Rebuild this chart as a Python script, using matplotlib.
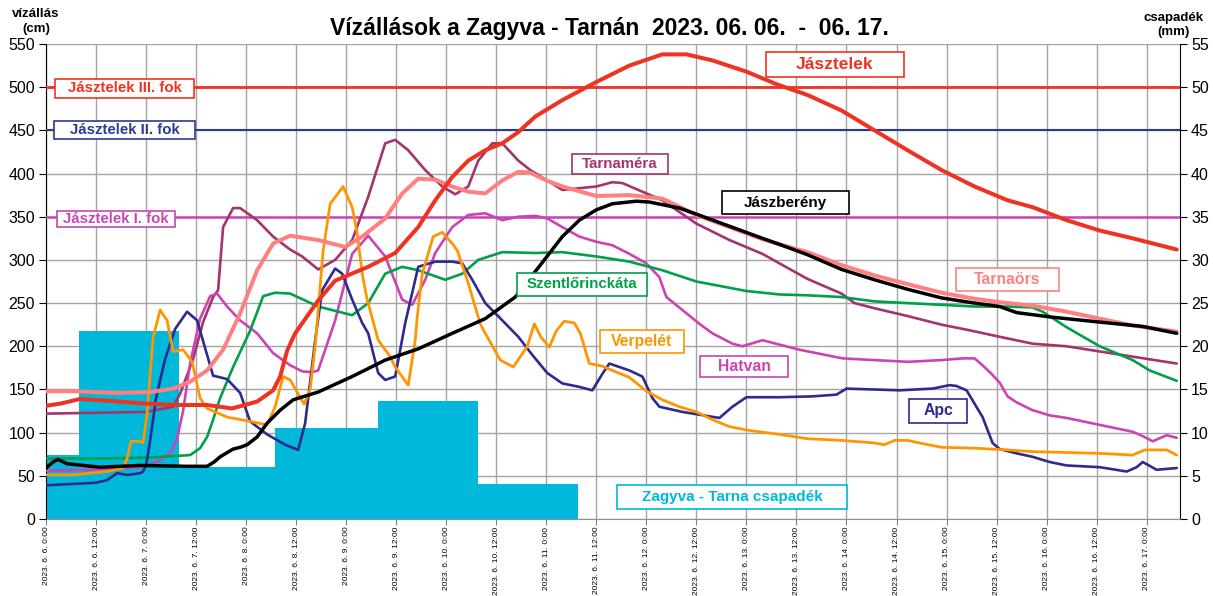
import numpy as np
import matplotlib
matplotlib.use("Agg")
import matplotlib.pyplot as plt
from matplotlib.patches import Rectangle

plt.rcParams['font.family'] = ['Liberation Sans', 'DejaVu Sans']

# ---------------- data (time in days since 2023-06-06 0:00) ----------------
precip_edges = [-0.67, 0.33, 1.33, 2.29, 3.32, 4.32, 5.32]
precip_mm = [7.4, 21.8, 6.0, 10.5, 13.7, 4.0]

jasztelek_t = [0.0, 0.16, 0.34, 0.61, 0.94, 1.27, 1.61, 1.86, 2.11, 2.27, 2.34, 2.41, 2.49, 2.72, 2.89,
               3.22, 3.49, 3.72, 3.89, 4.06, 4.22, 4.39, 4.56, 4.72, 4.89, 5.16, 5.50, 5.83, 6.16, 6.40,
               6.66, 7.00, 7.31, 7.61, 7.95, 8.28, 8.61, 8.95, 9.28, 9.61, 9.86, 10.20, 10.53, 10.86, 11.30]
jasztelek_v = [131, 134, 139, 137, 134, 132, 132, 128, 136, 149, 165, 195, 215, 253, 276,
               292, 308, 338, 369, 396, 415, 427, 435, 448, 466, 485, 506, 525, 538, 538,
               531, 518, 503, 491, 473, 450, 427, 404, 385, 369, 361, 346, 334, 325, 312]

jaszbereny_t = [0.0, 0.07, 0.12, 0.21, 0.54, 0.94, 1.41, 1.61, 1.68, 1.74, 1.87, 1.94, 2.01, 2.11, 2.21,
                2.34, 2.47, 2.72, 3.06, 3.39, 3.72, 4.06, 4.39, 4.69, 4.94, 5.16, 5.33, 5.50, 5.66, 5.90,
                6.03, 6.33, 6.50, 6.83, 7.16, 7.33, 7.61, 7.95, 8.28, 8.61, 8.95, 9.28, 9.53, 9.70, 10.03,
                10.53, 10.96, 11.30]
jaszbereny_v = [59, 66, 69, 64, 60, 62, 61, 61, 66, 72, 81, 83, 86, 95, 111,
                126, 138, 147, 165, 184, 197, 215, 232, 257, 294, 327, 346, 358, 365, 368,
                367, 360, 353, 339, 325, 318, 306, 289, 277, 266, 256, 250, 246, 239, 234,
                228, 223, 215]

tarnaors_t = [0.0, 0.27, 0.71, 1.04, 1.27, 1.44, 1.61, 1.77, 1.94, 2.11, 2.27, 2.44, 2.72, 2.99, 3.16,
              3.39, 3.56, 3.72, 3.89, 4.06, 4.22, 4.39, 4.56, 4.72, 4.84, 5.00, 5.16, 5.50, 5.83, 6.16,
              6.50, 6.83, 7.16, 7.33, 7.61, 7.95, 8.28, 8.61, 8.95, 9.28, 9.53, 9.86, 10.20, 10.53,
              10.86, 11.30]
tarnaors_v = [148, 148, 146, 147, 151, 159, 172, 196, 238, 288, 319, 328, 323, 315, 327,
              348, 377, 394, 393, 385, 379, 377, 392, 402, 401, 392, 385, 374, 375, 371,
              352, 338, 324, 318, 309, 294, 282, 272, 262, 255, 251, 247, 240, 232,
              224, 217]

tarnamera_t = [0.0, 0.5, 1.0, 1.27, 1.34, 1.47, 1.57, 1.67, 1.72, 1.77, 1.87, 1.94, 2.11, 2.27, 2.44,
               2.56, 2.72, 2.89, 3.06, 3.22, 3.39, 3.49, 3.62, 3.79, 3.96, 4.09, 4.22, 4.32, 4.46, 4.56,
               4.72, 4.84, 5.01, 5.16, 5.50, 5.66, 5.76, 6.00, 6.16, 6.50, 6.83, 7.16, 7.33, 7.61, 7.95,
               8.08, 8.28, 8.61, 8.95, 9.21, 9.53, 9.86, 10.20, 10.53, 10.86, 11.30]
tarnamera_v = [122, 123, 124, 130, 145, 185, 228, 257, 265, 338, 360, 360, 346, 327, 312,
               304, 289, 300, 323, 373, 435, 439, 427, 404, 385, 376, 385, 415, 435, 435,
               415, 404, 392, 381, 385, 390, 389, 377, 369, 342, 323, 307, 296, 278, 261,
               250, 244, 235, 225, 219, 211, 203, 200, 194, 188, 180]

szentlorinckata_t = [0.0, 0.5, 1.0, 1.44, 1.54, 1.61, 1.67, 1.74, 1.87, 2.04, 2.17, 2.29, 2.44, 2.72, 3.06,
                     3.22, 3.39, 3.56, 3.72, 3.99, 4.16, 4.32, 4.56, 4.89, 5.16, 5.50, 5.83, 6.16, 6.50,
                     7.00, 7.33, 7.61, 7.95, 8.28, 8.61, 8.95, 9.28, 9.61, 9.86, 9.96, 10.20, 10.53, 10.86,
                     11.03, 11.30]
szentlorinckata_v = [70, 70, 71, 74, 82, 95, 115, 140, 176, 218, 258, 262, 261, 246, 236,
                     250, 284, 292, 288, 277, 284, 300, 309, 308, 309, 304, 298, 288, 275,
                     264, 260, 259, 257, 252, 250, 248, 246, 246, 245, 240, 222, 200, 184,
                     172, 160]

hatvan_t = [0.0, 0.5, 0.97, 1.14, 1.24, 1.31, 1.37, 1.44, 1.54, 1.64, 1.71, 1.81, 1.94, 2.11, 2.27,
            2.44, 2.56, 2.66, 2.72, 2.89, 3.06, 3.22, 3.39, 3.56, 3.66, 3.79, 3.89, 4.06, 4.22, 4.39,
            4.56, 4.72, 4.89, 5.01, 5.16, 5.33, 5.50, 5.66, 5.83, 6.00, 6.13, 6.20, 6.36, 6.53, 6.66,
            6.86, 6.96, 7.16, 7.53, 7.96, 8.28, 8.61, 8.95, 9.16, 9.28, 9.36, 9.45, 9.53, 9.61, 9.70,
            9.86, 10.03, 10.20, 10.53, 10.86, 10.96, 11.06, 11.20, 11.30]
hatvan_v = [56, 57, 60, 68, 76, 93, 125, 180, 232, 258, 261, 246, 230, 215, 192,
            178, 171, 170, 172, 230, 307, 328, 304, 254, 248, 277, 308, 338, 352, 354,
            346, 350, 351, 348, 338, 327, 321, 317, 307, 296, 280, 257, 242, 226, 215,
            203, 200, 207, 196, 186, 184, 182, 184, 186, 186, 178, 168, 158, 142, 135,
            126, 120, 117, 109, 101, 96, 90, 97, 94]

apc_t = [0.0, 0.5, 0.61, 0.71, 0.81, 0.94, 0.97, 1.00, 1.04, 1.10, 1.19, 1.29, 1.41, 1.51, 1.61,
         1.67, 1.81, 1.94, 2.04, 2.21, 2.39, 2.52, 2.59, 2.69, 2.76, 2.89, 2.96, 3.06, 3.16, 3.22,
         3.32, 3.39, 3.49, 3.59, 3.72, 3.89, 4.06, 4.16, 4.26, 4.39, 4.56, 4.72, 4.86, 5.01, 5.16,
         5.33, 5.46, 5.56, 5.63, 5.83, 5.96, 6.06, 6.13, 6.36, 6.73, 6.86, 7.00, 7.33, 7.66, 7.90,
         8.00, 8.53, 8.86, 9.03, 9.10, 9.20, 9.36, 9.46, 9.53, 9.70, 9.86, 10.03, 10.20, 10.53, 10.80,
         10.90, 10.96, 11.10, 11.20, 11.30]
apc_v = [39, 42, 45, 53, 51, 53, 55, 62, 90, 140, 185, 220, 240, 230, 190,
         166, 162, 146, 113, 98, 86, 80, 111, 207, 265, 290, 284, 254, 227, 215,
         169, 161, 165, 227, 292, 298, 298, 296, 277, 250, 230, 211, 190, 169, 157,
         153, 149, 168, 180, 172, 165, 140, 130, 124, 117, 130, 141, 141, 142, 144,
         151, 149, 151, 155, 154, 149, 118, 88, 81, 76, 72, 66, 62, 60, 55,
         60, 66, 57, 58, 59]

verpelet_t = [0.0, 0.27, 0.61, 0.77, 0.81, 0.85, 0.94, 0.97, 1.01, 1.07, 1.14, 1.21, 1.27, 1.37, 1.46,
              1.54, 1.61, 1.81, 2.04, 2.21, 2.29, 2.37, 2.44, 2.52, 2.58, 2.64, 2.69, 2.77, 2.84, 2.97,
              3.06, 3.11, 3.16, 3.21, 3.32, 3.44, 3.49, 3.62, 3.69, 3.71, 3.76, 3.87, 3.96, 4.06, 4.11,
              4.22, 4.34, 4.39, 4.54, 4.67, 4.81, 4.88, 4.95, 5.03, 5.10, 5.18, 5.28, 5.34, 5.43, 5.56,
              5.66, 5.83, 6.00, 6.16, 6.33, 6.50, 6.66, 6.83, 7.00, 7.33, 7.61, 7.95, 8.28, 8.38, 8.48,
              8.61, 8.73, 8.95, 9.28, 9.61, 9.86, 10.20, 10.53, 10.86, 10.98, 11.20, 11.30]
verpelet_v = [51, 51, 55, 59, 70, 90, 90, 88, 122, 210, 242, 230, 194, 196, 182,
              140, 128, 118, 113, 109, 130, 165, 161, 145, 133, 150, 200, 311, 365, 385,
              361, 331, 284, 254, 207, 188, 176, 155, 207, 234, 284, 327, 332, 319, 311,
              273, 226, 215, 184, 176, 200, 226, 210, 199, 218, 229, 227, 215, 180, 177,
              172, 164, 148, 138, 130, 124, 115, 107, 103, 98, 93, 91, 88, 86, 91,
              91, 88, 83, 82, 80, 78, 77, 76, 74, 80, 80, 74]

thresholds = [500, 450, 350]
threshold_labels = ["Jásztelek III. fok", "Jásztelek II. fok", "Jásztelek I. fok"]

day_ticks = np.arange(0, 11.01, 0.5)
tick_labels = [f"2023. 6. {6 + int(d)}. {'12:00' if (d % 1) else '0:00'}" for d in day_ticks]

# ---------------- colours ----------------
C_RED = '#EE3322'
C_NAVY = '#2B3A96'
C_MAG = '#CC44B4'
C_MAROON = '#A3346E'
C_GREEN = '#00A04A'
C_ORANGE = '#FF9500'
C_SALMON = '#FF8080'
C_APC = '#2E2A8E'
C_CYAN = '#00B9DA'

# ---------------- figure ----------------
W, H = 1213, 596
fig = plt.figure(figsize=(W / 100, H / 100), dpi=100)
L, R, T, B = 46, 1180, 44, 519
rect = [L / W, 1 - B / H, (R - L) / W, (B - T) / H]

ax2 = fig.add_axes(rect)             # precipitation + grid (drawn below)
ax = fig.add_axes(rect, sharex=ax2)  # water levels
ax2.set_zorder(1)
ax.set_zorder(2)
ax.patch.set_visible(False)

XMAX = 11.333
ax2.set_xlim(0, XMAX)
ax2.set_ylim(0, 55)
ax.set_ylim(0, 550)

edges = np.array(precip_edges)
ax2.bar(edges[:-1], precip_mm, width=np.diff(edges), align='edge', color=C_CYAN,
        edgecolor='none', zorder=2)
ax2.set_axisbelow(True)
ax2.grid(True, color='#A4A4A4', lw=1.0, zorder=0)
ax2.set_xticks(day_ticks)
ax2.set_yticks(np.arange(0, 56, 5))

# threshold lines
thr_colors = [C_RED, C_NAVY, C_MAG]
thr_lw = [2.0, 1.5, 1.8]
for v, c, lw in zip(thresholds, thr_colors, thr_lw):
    ax.axhline(v, color=c, lw=lw, zorder=2)

series = [
    (tarnamera_t, tarnamera_v, C_MAROON, 1.9),
    (hatvan_t, hatvan_v, C_MAG, 1.9),
    (szentlorinckata_t, szentlorinckata_v, C_GREEN, 1.9),
    (apc_t, apc_v, C_APC, 1.9),
    (verpelet_t, verpelet_v, C_ORANGE, 2.0),
    (tarnaors_t, tarnaors_v, C_SALMON, 2.9),
    (jaszbereny_t, jaszbereny_v, 'black', 2.5),
    (jasztelek_t, jasztelek_v, C_RED, 2.9),
]
for i, (t, v, c, lw) in enumerate(series):
    ax.plot(t, v, color=c, lw=lw, solid_joinstyle='round', solid_capstyle='round', zorder=3 + i * 0.1)

# axes styling
ax.set_yticks(np.arange(0, 551, 50))
ax.tick_params(axis='y', labelsize=11.5, length=5, direction='out', colors='black', pad=3)
ax2.yaxis.tick_right()
ax2.tick_params(axis='y', labelsize=11.5, length=5, direction='out', colors='black', pad=3)
ax.tick_params(axis='x', labelbottom=False, length=0)
ax2.tick_params(axis='x', labelsize=6.0, length=4, direction='out', color='#808080', pad=1.5)
ax2.set_xticklabels(tick_labels, rotation=90, va='top', ha='center')
for a in (ax, ax2):
    for s in a.spines.values():
        s.set_visible(False)
ax2.spines['left'].set_visible(True)
ax2.spines['left'].set_color('black')
ax2.spines['right'].set_visible(True)
ax2.spines['right'].set_color('black')
ax2.spines['bottom'].set_visible(True)
ax2.spines['bottom'].set_color('#909090')
ax.yaxis.tick_left()

# title and axis captions
fig.text(0.5025, 1 - 28 / H, "Vízállások a Zagyva - Tarnán  2023. 06. 06.  -  06. 17.",
         ha='center', va='center', fontsize=16.5, fontweight='bold')
fig.text(36 / W, 1 - 14 / H, "vízállás", ha='center', va='center', fontsize=9.5, fontweight='bold')
fig.text(36 / W, 1 - 29 / H, "(cm)", ha='center', va='center', fontsize=9.5, fontweight='bold')
fig.text(1174 / W, 1 - 18 / H, "csapadék", ha='center', va='center', fontsize=9.5, fontweight='bold')
fig.text(1174 / W, 1 - 32 / H, "(mm)", ha='center', va='center', fontsize=9.5, fontweight='bold')

# label boxes (pixel extents -> axes fraction)
def label_box(text, x0, x1, y0, y1, color, size=10.8):
    fx0 = (x0 - L) / (R - L)
    fx1 = (x1 - L) / (R - L)
    fy0 = (B - y1) / (B - T)
    fy1 = (B - y0) / (B - T)
    ax.add_patch(Rectangle((fx0, fy0), fx1 - fx0, fy1 - fy0, transform=ax.transAxes,
                           facecolor='white', edgecolor=color, lw=1.2, zorder=10, clip_on=False))
    ax.text((fx0 + fx1) / 2, (fy0 + fy1) / 2, text, transform=ax.transAxes, ha='center',
            va='center', color=color, fontsize=size, fontweight='bold', zorder=11)

label_box(threshold_labels[0], 55, 194, 79, 98, C_RED)
label_box(threshold_labels[1], 54, 195, 121, 139, C_NAVY)
label_box(threshold_labels[2], 57, 175, 211, 227, C_MAG)
label_box("Jásztelek", 766, 904, 52, 77, C_RED, size=12.5)
label_box("Tarnaméra", 572, 668, 154, 174, C_MAROON)
label_box("Jászberény", 722, 849, 191, 214, 'black', size=11)
label_box("Szentlőrinckáta", 517, 647, 273, 296, C_GREEN)
label_box("Verpelét", 600, 684, 330, 353, C_ORANGE, size=11.3)
label_box("Hatvan", 700, 788, 356, 377, C_MAG, size=11.3)
label_box("Apc", 909, 967, 399, 423, C_APC, size=11.3)
label_box("Tarnaörs", 956, 1059, 268, 291, C_SALMON, size=11.3)
label_box("Zagyva - Tarna csapadék", 617, 847, 485, 509, C_CYAN, size=11)

fig.savefig("out.png", dpi=100)
